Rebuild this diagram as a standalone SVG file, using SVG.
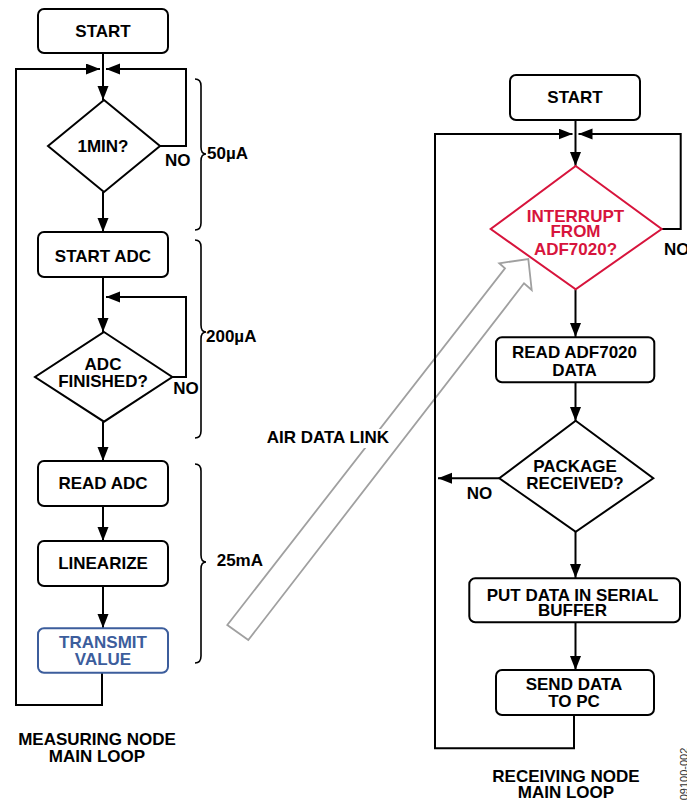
<svg xmlns="http://www.w3.org/2000/svg" width="687" height="807" viewBox="0 0 687 807">
<defs>
<style>
text{font-family:"Liberation Sans",Arial,sans-serif;font-weight:bold;font-size:17px;fill:#000}
.c{text-anchor:middle}
.box{fill:#fff;stroke:#000;stroke-width:2}
.blue{fill:#fff;stroke:#3c5d9c;stroke-width:2}
.bt{fill:#3c5d9c}
.dia{fill:#fff;stroke:#000;stroke-width:2}
.red{fill:#fff;stroke:#d7143c;stroke-width:2}
.rt{fill:#d7143c}
.ln{fill:none;stroke:#000;stroke-width:2}
.br{fill:none;stroke:#000;stroke-width:1.6}
.air{fill:none;stroke:#a0a0a0;stroke-width:1.8;stroke-linejoin:miter}
</style>
<marker id="ah" markerUnits="userSpaceOnUse" markerWidth="15" markerHeight="12" refX="14" refY="5.5" orient="auto">
<path d="M0,0 L14,5.5 L0,11 z" fill="#000"/>
</marker>
</defs>
<rect width="687" height="807" fill="#fff"/>

<g id="air-data-link">
<path class="air" d="M227.3,625 L505,268.3 L499.3,263.3 L528.3,259 L531.7,290 L524,283.3 L248.3,640 Z"/>
<rect x="264" y="429" width="131" height="19" fill="#fff"/>
<text x="266.7" y="443.3">AIR DATA LINK</text>
</g>

<g id="connectors">
<path class="ln" d="M103,53 V100" marker-end="url(#ah)"/>
<path class="ln" d="M102,673 V705 H16 V69 H100" marker-end="url(#ah)"/>
<path class="ln" d="M160,146 H186 V69 H106" marker-end="url(#ah)"/>
<path class="ln" d="M103,192 V232" marker-end="url(#ah)"/>
<path class="ln" d="M103,277 V332" marker-end="url(#ah)"/>
<path class="ln" d="M172,377 H186 V297 H106" marker-end="url(#ah)"/>
<path class="ln" d="M103,422 V461" marker-end="url(#ah)"/>
<path class="ln" d="M103,506 V541" marker-end="url(#ah)"/>
<path class="ln" d="M103,586 V628" marker-end="url(#ah)"/>

<path class="ln" d="M575.5,120 V166" marker-end="url(#ah)"/>
<path class="ln" d="M661.7,229 H680.7 V134 H578.5" marker-end="url(#ah)"/>
<path class="ln" d="M574,715 V748.3 H435 V134 H572.5" marker-end="url(#ah)"/>
<path class="ln" d="M575.5,289.3 V337" marker-end="url(#ah)"/>
<path class="ln" d="M575.5,382.3 V421" marker-end="url(#ah)"/>
<path class="ln" d="M499.3,478.3 H438" marker-end="url(#ah)"/>
<path class="ln" d="M575.5,531.7 V578" marker-end="url(#ah)"/>
<path class="ln" d="M575.5,622.3 V670" marker-end="url(#ah)"/>
</g>

<g id="start-left">
<rect class="box" x="38" y="9" width="130" height="44" rx="6"/>
<text class="c" x="103" y="37.3">START</text>
</g>
<g id="dec-1min">
<path class="dia" d="M104,100 L160,146 L104,192 L48,146 Z"/>
<text class="c" x="103" y="151.7">1MIN?</text>
<text x="165" y="165.7">NO</text>
</g>
<g id="start-adc">
<rect class="box" x="38" y="232" width="130" height="45" rx="6"/>
<text class="c" x="103" y="261.7">START ADC</text>
</g>
<g id="dec-adc">
<path class="dia" d="M104,332 L172.3,377 L104,421.7 L35,377 Z"/>
<text class="c" x="103" y="370">ADC<tspan x="103" dy="16.7">FINISHED?</tspan></text>
<text x="173.3" y="394.3">NO</text>
</g>
<g id="read-adc">
<rect class="box" x="38" y="461" width="130" height="45" rx="6"/>
<text class="c" x="103" y="489">READ ADC</text>
</g>
<g id="linearize">
<rect class="box" x="38" y="541" width="130" height="45" rx="6"/>
<text class="c" x="103" y="569">LINEARIZE</text>
</g>
<g id="transmit">
<rect class="blue" x="38" y="628.3" width="130" height="44.4" rx="6"/>
<text class="c bt" x="103" y="648.3">TRANSMIT<tspan x="103" dy="16.7">VALUE</tspan></text>
</g>

<g id="braces">
<path class="br" d="M195,79 Q201,79 201,86 V147 Q201,154 206,154 Q201,154 201,161 V223 Q201,230 195,230"/>
<text x="207" y="159">50µA</text>
<path class="br" d="M195,240 Q201,240 201,247 V325 Q201,332 206,332 Q201,332 201,339 V431 Q201,438 195,438"/>
<text x="206" y="341.7">200µA</text>
<path class="br" d="M195,464 Q201,464 201,471 V555 Q201,562 206,562 Q201,562 201,569 V656 Q201,663 195,663"/>
<text x="216.7" y="565.7">25mA</text>
</g>

<g id="label-measuring">
<text class="c" x="97" y="745">MEASURING NODE<tspan x="97" dy="16.7">MAIN LOOP</tspan></text>
</g>

<g id="start-right">
<rect class="box" x="510" y="75" width="130" height="45" rx="6"/>
<text class="c" x="575" y="102.7">START</text>
</g>
<g id="dec-interrupt">
<path class="red" d="M575.7,166 L661.7,229 L575.7,289.3 L490.7,229 Z"/>
<text class="c rt" x="575.5" y="221.7">INTERRUPT<tspan x="575.5" dy="15.6">FROM</tspan><tspan x="575.5" dy="17.7">ADF7020?</tspan></text>
<text x="664" y="255">NO</text>
</g>
<g id="read-adf">
<rect class="box" x="496" y="337.3" width="158.3" height="45" rx="6"/>
<text class="c" x="574.5" y="358.3">READ ADF7020<tspan x="574.5" dy="17.4">DATA</tspan></text>
</g>
<g id="dec-package">
<path class="dia" d="M575.7,420.7 L653.3,478.3 L575.7,531.7 L499.3,478.3 Z"/>
<text class="c" x="575" y="472.3">PACKAGE<tspan x="575" dy="16.7">RECEIVED?</tspan></text>
<text x="466.7" y="499">NO</text>
</g>
<g id="put-data">
<rect class="box" x="469.3" y="578.3" width="210.7" height="44" rx="6"/>
<text class="c" x="572.5" y="601">PUT DATA IN SERIAL<tspan x="572.5" dy="14.7">BUFFER</tspan></text>
</g>
<g id="send-data">
<rect class="box" x="496" y="670" width="158" height="45" rx="6"/>
<text class="c" x="574" y="690">SEND DATA<tspan x="574" dy="17.3">TO PC</tspan></text>
</g>
<g id="label-receiving">
<text class="c" x="566" y="781.7">RECEIVING NODE<tspan x="566" dy="16.6">MAIN LOOP</tspan></text>
</g>
<text transform="translate(688,774) rotate(-90)" class="c" style="font-weight:normal;font-size:11px;fill:#333">09100-002</text>
</svg>
